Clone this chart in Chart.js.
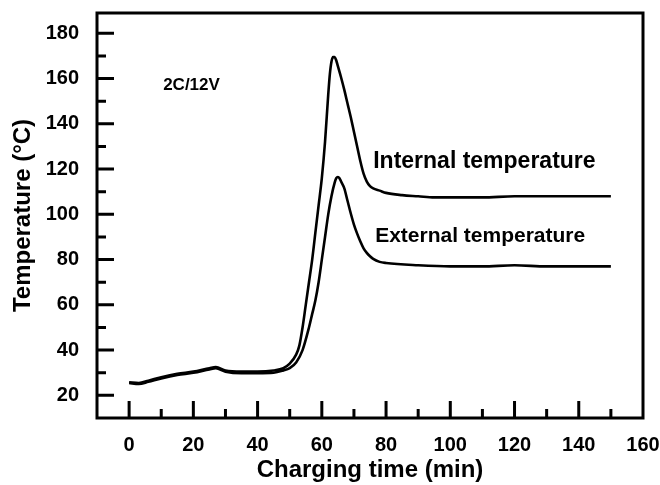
<!DOCTYPE html>
<html>
<head>
<meta charset="utf-8">
<script src="https://cdn.jsdelivr.net/npm/chart.js@4.4.1/dist/chart.umd.min.js"></script>
<style>
  html, body { margin: 0; padding: 0; background: #fff; }
  canvas { display: block; }
</style>
</head>
<body>
<canvas id="chart" width="660" height="485"></canvas>
<script>
// charging time (min) and temperature (°C)
const intTime = [0, 3, 6, 10, 15, 20, 25, 27, 30, 35, 40, 45, 48, 50, 52, 53, 54, 55, 56, 57, 58, 59, 60, 61, 62, 62.5, 63, 63.5, 64, 64.5, 65, 66, 67, 68, 69, 70, 71, 72, 73, 74, 75, 76, 78, 80, 85, 90, 95, 100, 110, 120, 130, 140, 150];
const intTemp = [25.8, 25.5, 26.5, 28, 29.5, 30.5, 32, 32.5, 31, 30.5, 30.5, 31, 32, 34, 38, 42, 50, 60, 70, 80, 92, 104, 116, 132, 153, 162, 167.5, 169.5, 169.5, 168, 165.5, 160.5, 155, 149, 143, 136.5, 130, 123.5, 118, 114.5, 112.5, 111.5, 110.5, 109.5, 108.5, 108, 107.5, 107.5, 107.5, 108, 108, 108, 108];

const extTime = [0, 3, 6, 10, 15, 20, 25, 27, 30, 35, 40, 45, 48, 50, 52, 54, 56, 57, 58, 59, 60, 61, 62, 63, 64, 64.5, 65, 65.5, 66, 67, 68, 69, 70, 71, 72, 73, 74, 75, 76, 78, 80, 90, 100, 110, 120, 130, 140, 150];
const extTemp = [25.5, 25, 26, 27.5, 29, 30, 31.5, 32, 30.5, 29.8, 29.8, 30, 31, 32, 34.5, 40, 50, 56, 62, 70, 80, 90, 100, 108, 114, 116, 116.5, 116, 114.5, 111.5, 106, 100.5, 95.5, 91.5, 88, 85, 83, 81.5, 80.3, 79, 78.5, 77.5, 77, 77, 77.5, 77, 77, 77];

const xTicks = [0, 20, 40, 60, 80, 100, 120, 140, 160];
const xMinor = [10, 30, 50, 70, 90, 110, 130, 150];
const yTicks = [20, 40, 60, 80, 100, 120, 140, 160, 180];
const yMinor = [30, 50, 70, 90, 110, 130, 150, 170];

const notes = [
  { text: '2C/12V', x: 10.6, y: 157, size: 17 },
  { text: 'Internal temperature', x: 76, y: 123.4, size: 23 },
  { text: 'External temperature', x: 76.6, y: 90.3, size: 21 }
];

const FONT = '"Liberation Sans", Arial, sans-serif';

const frame = {
  id: 'frame',
  afterDatasetsDraw(chart) {
    const { ctx, chartArea: a, scales: { x, y } } = chart;
    ctx.save();
    ctx.strokeStyle = '#000';
    ctx.lineWidth = 3;
    ctx.strokeRect(a.left, a.top, a.right - a.left, a.bottom - a.top);
    ctx.beginPath();
    const tick = (vals, len, horiz) => vals.forEach(v => {
      if (horiz) {
        const px = x.getPixelForValue(v);
        ctx.moveTo(px, a.bottom); ctx.lineTo(px, a.bottom - len);
      } else {
        const py = y.getPixelForValue(v);
        ctx.moveTo(a.left, py); ctx.lineTo(a.left + len, py);
      }
    });
    tick(xTicks.slice(0, -1), 17, true);
    tick(xMinor, 9, true);
    tick(yTicks, 17, false);
    tick(yMinor, 9, false);
    ctx.stroke();

    ctx.fillStyle = '#000';
    ctx.textBaseline = 'middle';
    ctx.textAlign = 'left';
    notes.forEach(n => {
      ctx.font = 'bold ' + n.size + 'px ' + FONT;
      ctx.fillText(n.text, x.getPixelForValue(n.x), y.getPixelForValue(n.y));
    });
    ctx.restore();
  }
};

new Chart(document.getElementById('chart'), {
  type: 'line',
  data: {
    datasets: [
      {
        label: 'Internal temperature',
        data: intTime.map((t, i) => ({ x: t, y: intTemp[i] })),
        borderColor: '#000',
        borderWidth: 2.6,
        pointRadius: 0,
        cubicInterpolationMode: 'monotone'
      },
      {
        label: 'External temperature',
        data: extTime.map((t, i) => ({ x: t, y: extTemp[i] })),
        borderColor: '#000',
        borderWidth: 2.6,
        pointRadius: 0,
        cubicInterpolationMode: 'monotone'
      }
    ]
  },
  options: {
    responsive: false,
    animation: false,
    devicePixelRatio: 1,
    layout: { padding: { top: 13, right: 17, left: 0, bottom: 0 } },
    plugins: { legend: { display: false }, tooltip: { enabled: false } },
    scales: {
      x: {
        type: 'linear',
        min: -10,
        max: 160,
        grid: { display: false, drawTicks: false },
        border: { display: false },
        afterBuildTicks: s => { s.ticks = xTicks.map(v => ({ value: v })); },
        afterFit: s => { s.height = 67; s.paddingLeft = 0; s.paddingRight = 0; },
        ticks: { color: '#000', padding: 15, maxRotation: 0, font: { family: FONT, size: 20, weight: 'bold' } },
        title: {
          display: true,
          text: 'Charging time (min)',
          color: '#000',
          padding: { top: 0, bottom: 0 },
          font: { family: FONT, size: 24, weight: 'bold' }
        }
      },
      y: {
        min: 10,
        max: 189,
        grid: { display: false, drawTicks: false },
        border: { display: false },
        afterBuildTicks: s => { s.ticks = yTicks.map(v => ({ value: v })); },
        afterFit: s => { s.width = 97; s.paddingTop = 0; s.paddingBottom = 0; },
        ticks: { color: '#000', padding: 18, font: { family: FONT, size: 20, weight: 'bold' } },
        title: {
          display: true,
          text: 'Temperature (°C)',
          color: '#000',
          padding: { top: 9, bottom: 0 },
          font: { family: FONT, size: 24, weight: 'bold' }
        }
      }
    }
  },
  plugins: [frame]
});
</script>
</body>
</html>
